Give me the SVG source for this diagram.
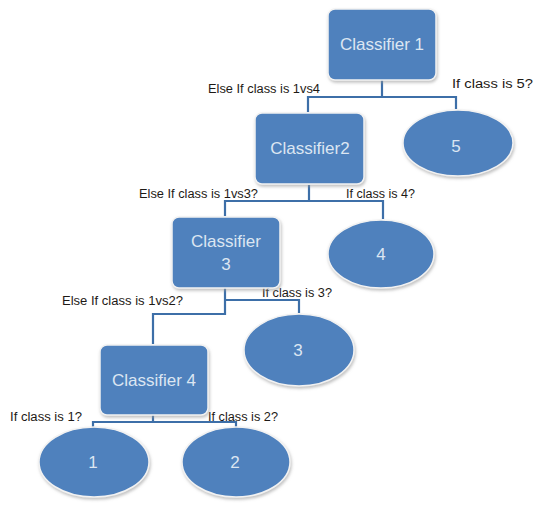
<svg xmlns="http://www.w3.org/2000/svg" width="535" height="505" viewBox="0 0 535 505">
<defs>
<filter id="sh" x="-20%" y="-20%" width="140%" height="140%">
<feDropShadow dx="1" dy="2" stdDeviation="1.5" flood-color="#999" flood-opacity="0.6"/>
</filter>
</defs>
<style>
.box{fill:#4f81bd;stroke:#f2f2f2;stroke-width:1.5;filter:url(#sh)}
.nt{font-family:"Liberation Sans",Arial,sans-serif;font-size:17px;fill:#dce6f2;text-anchor:middle}
.lb{font-family:"Liberation Sans Narrow","Liberation Sans",Arial,sans-serif;font-size:12.5px;fill:#1e1a16}
.cn{fill:none;stroke:#3d6fa8;stroke-width:2.2}
</style>
<rect width="535" height="505" fill="#fff"/>
<g id="connectors">
<polyline class="cn" points="382,80 382,97 308,97 308,112"/>
<polyline class="cn" points="382,97 456,97 456,109"/>
<polyline class="cn" points="309,185 309,201 225,201 225,216"/>
<polyline class="cn" points="309,201 383,201 383,219"/>
<polyline class="cn" points="225,288 225,314 153,314 153,344"/>
<polyline class="cn" points="225,300 299,300 299,313"/>
<polyline class="cn" points="153,415 153,422 93,422 93,428"/>
<polyline class="cn" points="153,422 236,422 236,428"/>
</g>
<g id="labels">
<text class="lb" x="208" y="93" textLength="112" lengthAdjust="spacingAndGlyphs">Else If class is 1vs4</text>
<text class="lb" x="452" y="88" textLength="81" lengthAdjust="spacingAndGlyphs">If class is 5?</text>
<text class="lb" x="139" y="198" textLength="119" lengthAdjust="spacingAndGlyphs">Else If class is 1vs3?</text>
<text class="lb" x="346" y="198" textLength="69" lengthAdjust="spacingAndGlyphs">If class is 4?</text>
<text class="lb" x="62" y="305" textLength="121" lengthAdjust="spacingAndGlyphs">Else If class is 1vs2?</text>
<text class="lb" x="262" y="297" textLength="70" lengthAdjust="spacingAndGlyphs">If class is 3?</text>
<text class="lb" x="10" y="421" textLength="72" lengthAdjust="spacingAndGlyphs">If class is 1?</text>
<text class="lb" x="208" y="421" textLength="70" lengthAdjust="spacingAndGlyphs">If class is 2?</text>
</g>
<g id="classifier1">
<rect class="box" x="328" y="9" width="108" height="71" rx="7"/>
<text class="nt" x="382" y="50">Classifier 1</text>
</g>
<g id="leaf5">
<ellipse class="box" cx="458" cy="143" rx="55" ry="33"/>
<text class="nt" x="456" y="152">5</text>
</g>
<g id="classifier2">
<rect class="box" x="255" y="113" width="109" height="71" rx="7"/>
<text class="nt" x="310" y="154">Classifier2</text>
</g>
<g id="leaf4">
<ellipse class="box" cx="381" cy="254" rx="53" ry="34"/>
<text class="nt" x="381" y="260">4</text>
</g>
<g id="classifier3">
<rect class="box" x="172" y="217" width="108" height="71" rx="7"/>
<text class="nt" x="226" y="247">Classifier</text>
<text class="nt" x="226" y="270">3</text>
</g>
<g id="leaf3">
<ellipse class="box" cx="299" cy="350" rx="55" ry="36"/>
<text class="nt" x="298" y="356">3</text>
</g>
<g id="classifier4">
<rect class="box" x="100" y="345" width="108" height="70" rx="7"/>
<text class="nt" x="154" y="386">Classifier 4</text>
</g>
<g id="leaf1">
<ellipse class="box" cx="94" cy="462" rx="55" ry="35"/>
<text class="nt" x="93" y="468">1</text>
</g>
<g id="leaf2">
<ellipse class="box" cx="236" cy="462" rx="54" ry="35"/>
<text class="nt" x="235" y="468">2</text>
</g>
</svg>
